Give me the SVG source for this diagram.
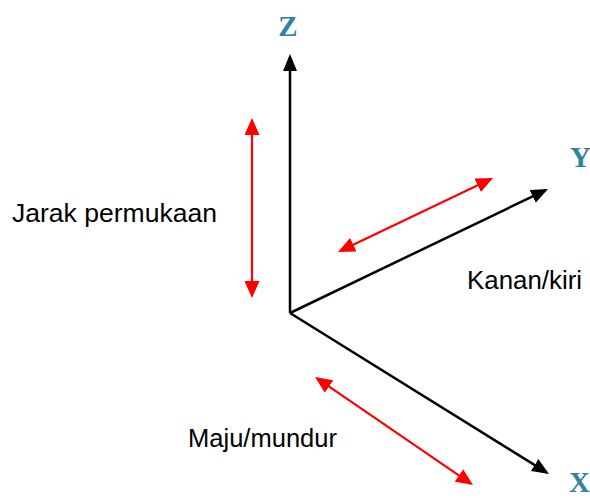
<svg xmlns="http://www.w3.org/2000/svg" width="590" height="498" viewBox="0 0 590 498">
<style>
.axis{stroke:#000;stroke-width:2.5;fill:none}
.dir{stroke:#ff0000;stroke-width:2.2;fill:none}
.lbl{font-family:"Liberation Sans",Arial,sans-serif;font-size:25px;fill:#000}
.ax{font-family:"Liberation Serif","Times New Roman",serif;font-weight:bold;font-size:29px;fill:#31849B}
</style>
<defs>
<marker id="ah" markerUnits="userSpaceOnUse" markerWidth="17" markerHeight="15" refX="14" refY="7" orient="auto-start-reverse">
<path d="M0,0 L17,7 L0,14 Z" fill="#000"/>
</marker>
<marker id="rh" markerUnits="userSpaceOnUse" markerWidth="17" markerHeight="15" refX="14" refY="7.5" orient="auto-start-reverse">
<path d="M0,0 L17,7.5 L0,15 Z" fill="#ff0000"/>
</marker>
</defs>
<g id="connectors">
<line class="axis" x1="290" y1="313" x2="290" y2="57" marker-end="url(#ah)"/>
<line class="axis" x1="290" y1="313" x2="545.3" y2="190.3" marker-end="url(#ah)"/>
<line class="axis" x1="290" y1="313" x2="546.5" y2="472.4" marker-end="url(#ah)"/>
<line class="dir" x1="252" y1="121" x2="252" y2="295" marker-start="url(#rh)" marker-end="url(#rh)"/>
<line class="dir" x1="340.7" y1="250.7" x2="490.3" y2="179.3" marker-start="url(#rh)" marker-end="url(#rh)"/>
<line class="dir" x1="317.5" y1="378.7" x2="470.5" y2="483.3" marker-start="url(#rh)" marker-end="url(#rh)"/>
</g>
<g id="axis-z"><text class="ax" x="288" y="36" text-anchor="middle">Z</text></g>
<g id="axis-y"><text class="ax" x="570" y="167">Y</text></g>
<g id="axis-x"><text class="ax" x="569" y="492">X</text></g>
<g id="label-jarak"><text class="lbl" x="12" y="222" textLength="205" lengthAdjust="spacingAndGlyphs">Jarak permukaan</text></g>
<g id="label-kanan"><text class="lbl" x="467" y="289" textLength="115" lengthAdjust="spacingAndGlyphs">Kanan/kiri</text></g>
<g id="label-maju"><text class="lbl" x="188" y="447" textLength="149" lengthAdjust="spacingAndGlyphs">Maju/mundur</text></g>
</svg>
